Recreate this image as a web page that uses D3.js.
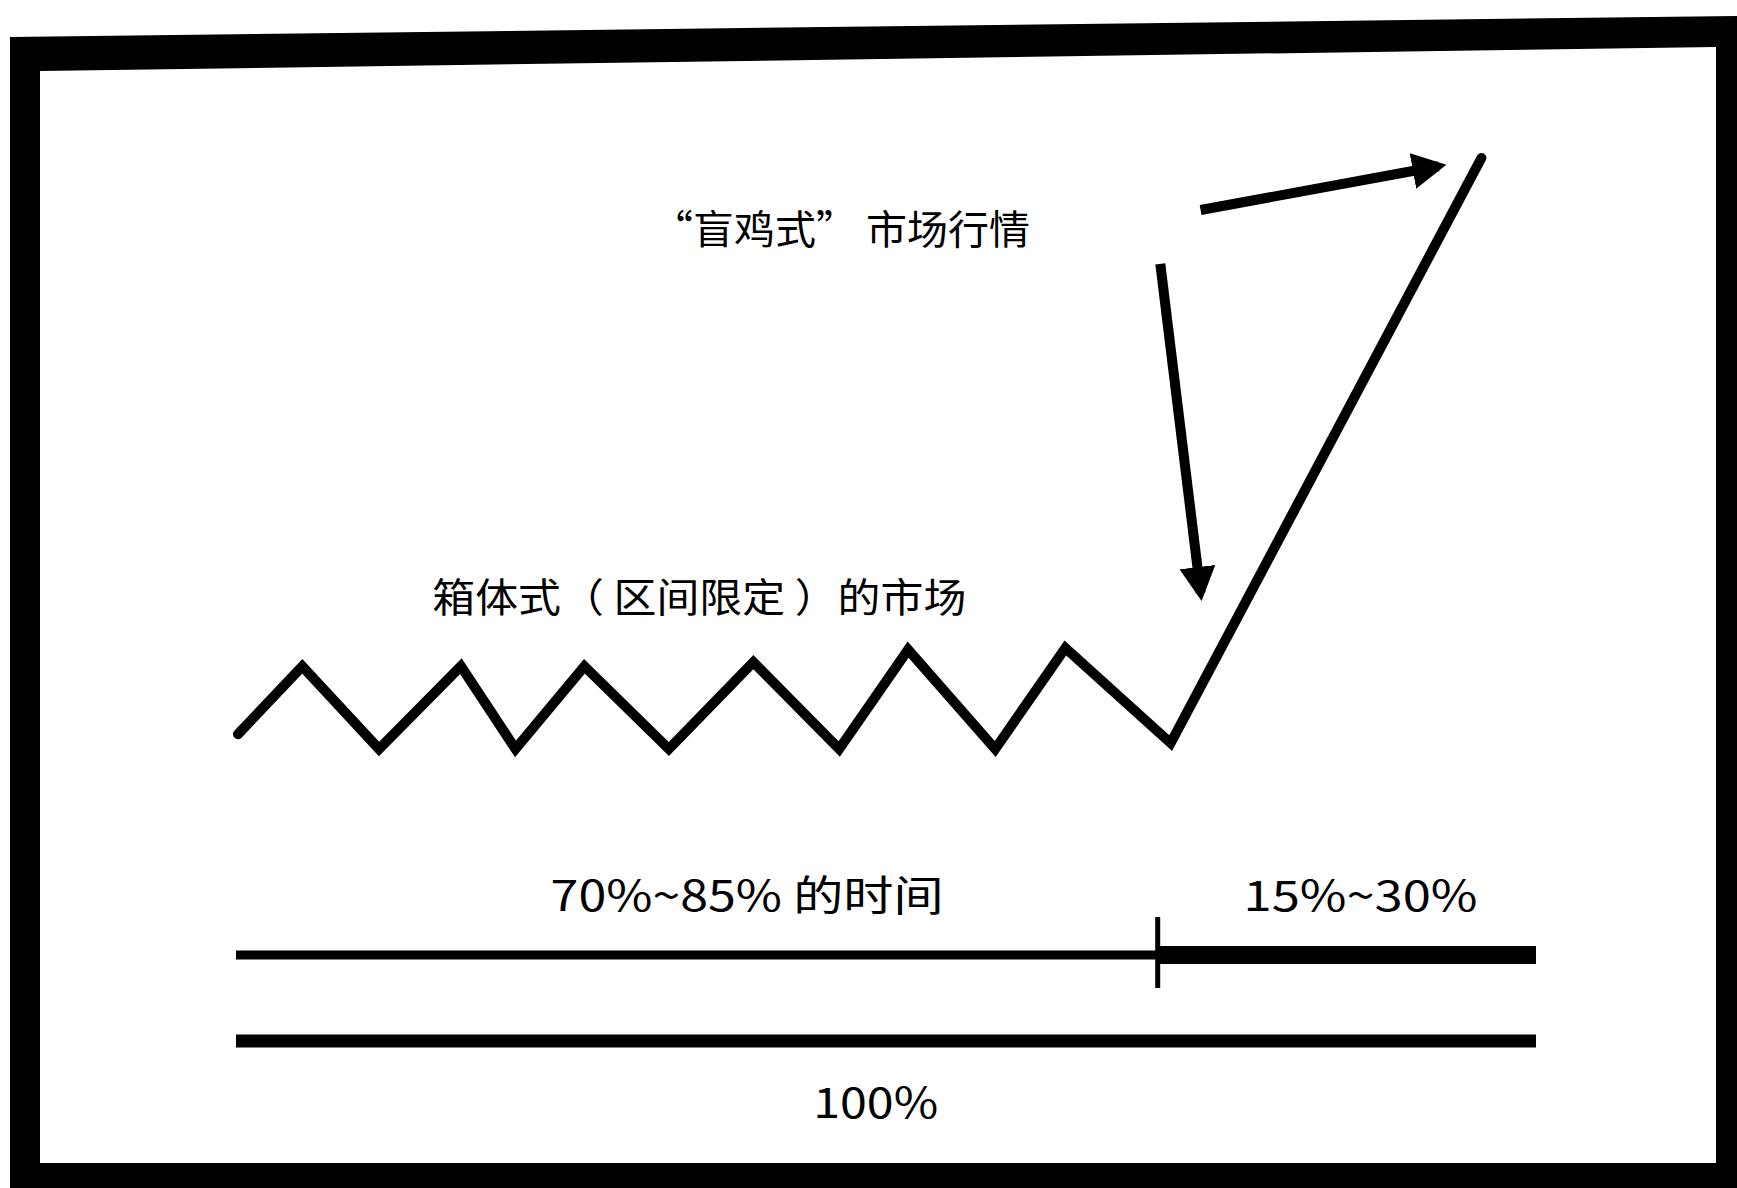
<!DOCTYPE html>
<html>
<head>
<meta charset="utf-8">
<script src="https://cdn.jsdelivr.net/npm/d3@7"></script>
<style>
  html, body { margin: 0; padding: 0; background: #fff; }
  svg { display: block; }
  .label { font-family: "Noto Sans CJK SC", "Liberation Sans", sans-serif; fill: #000; }
</style>
</head>
<body>
<svg id="chart"></svg>
<script>
// time share (0-100 % of time) and price level (0-100) of the sketched market
const timeX = [0.15, 5.1, 11.0, 17.3, 21.5, 26.8, 33.3, 39.8, 46.4, 51.7, 58.4, 63.8, 71.9, 95.8];
const priceY = [2.5, 14.0, 0, 14.0, 0, 14.0, 0, 14.7, 0, 16.8, 0, 17.1, 1.0, 100];

// phases along the time bar
const phaseNames = ['range', 'trend'];
const phaseStart = [0, 70.9];
const phaseEnd = [70.9, 100];

// annotation arrows [x, y] in the same units
const arrowNames = ['toTrend', 'toBreakout'];
const arrowFrom = [[74.2, 91.2], [71.1, 82.1]];
const arrowTo = [[92.5, 98.6], [74.2, 26.4]];

// labels
const labelText = ['\u201c盲鸡式\u201d 市场行情', '箱体式（ 区间限定 ）的市场', '70%~85% 的时间', '15%~30%', '100%'];
const labelX = [32.0, 15.1, 24.2, 77.5, 44.4];
const labelY = [88.4, 26.0, 0, 0, 0];
const labelWidth = [378, 534, 393, 234, 125];

const width = 1737, height = 1188;
const svg = d3.select('#chart').attr('width', width).attr('height', height);

const x = d3.scaleLinear().domain([0, 100]).range([236, 1536]);
const y = d3.scaleLinear().domain([0, 100]).range([749, 158]);

// heavy hand-drawn frame (slightly skewed at the top)
svg.append('path')
    .attr('fill-rule', 'evenodd')
    .attr('fill', '#000')
    .attr('d', 'M10,37 L1737,16 L1737,1188 L10,1188 Z M40,71 L1716,47 L1716,1163 L40,1163 Z');

// price path
const pts = timeX.map((t, i) => [x(t), y(priceY[i])]);
svg.append('path')
    .attr('d', d3.line()(pts))
    .attr('fill', 'none')
    .attr('stroke', '#000')
    .attr('stroke-width', 10)
    .attr('stroke-linejoin', 'miter')
    .attr('stroke-linecap', 'round');

// arrows
svg.append('defs').append('marker')
    .attr('id', 'head')
    .attr('markerUnits', 'userSpaceOnUse')
    .attr('viewBox', '0 0 34 36')
    .attr('markerWidth', 34)
    .attr('markerHeight', 36)
    .attr('refX', 26)
    .attr('refY', 18)
    .attr('orient', 'auto')
  .append('path')
    .attr('d', 'M0,0 L34,18 L0,36 Z')
    .attr('fill', '#000');

svg.selectAll('.arrow')
    .data(arrowNames)
  .join('line')
    .attr('class', 'arrow')
    .attr('x1', (d, i) => x(arrowFrom[i][0]))
    .attr('y1', (d, i) => y(arrowFrom[i][1]))
    .attr('x2', (d, i) => x(arrowTo[i][0]))
    .attr('y2', (d, i) => y(arrowTo[i][1]))
    .attr('stroke', '#000')
    .attr('stroke-width', 10)
    .attr('marker-end', 'url(#head)');

// time bars
const barY = 955, totalY = 1041;
svg.selectAll('.phase')
    .data(phaseNames)
  .join('line')
    .attr('class', 'phase')
    .attr('x1', (d, i) => x(phaseStart[i]))
    .attr('x2', (d, i) => x(phaseEnd[i]))
    .attr('y1', barY)
    .attr('y2', barY)
    .attr('stroke', '#000')
    .attr('stroke-width', (d, i) => i === 0 ? 9 : 18);

svg.append('line')
    .attr('x1', x(phaseEnd[0])).attr('x2', x(phaseEnd[0]))
    .attr('y1', barY - 38).attr('y2', barY + 33)
    .attr('stroke', '#000')
    .attr('stroke-width', 5);

svg.append('line')
    .attr('x1', x(0)).attr('x2', x(100))
    .attr('y1', totalY).attr('y2', totalY)
    .attr('stroke', '#000')
    .attr('stroke-width', 13);

// text
const labelPos = [
  [x(labelX[0]), y(labelY[0])],
  [x(labelX[1]), y(labelY[1])],
  [x(labelX[2]), 892],
  [x(labelX[3]), 892],
  [x(labelX[4]), 1099]
];
svg.selectAll('.label')
    .data(labelText)
  .join('text')
    .attr('class', 'label')
    .attr('x', (d, i) => labelPos[i][0])
    .attr('y', (d, i) => labelPos[i][1])
    .attr('dominant-baseline', 'central')
    .attr('font-size', (d, i) => i < 2 ? 40 : 42)
    .attr('textLength', (d, i) => labelWidth[i])
    .attr('lengthAdjust', 'spacingAndGlyphs')
    .text(d => d);
</script>
</body>
</html>
